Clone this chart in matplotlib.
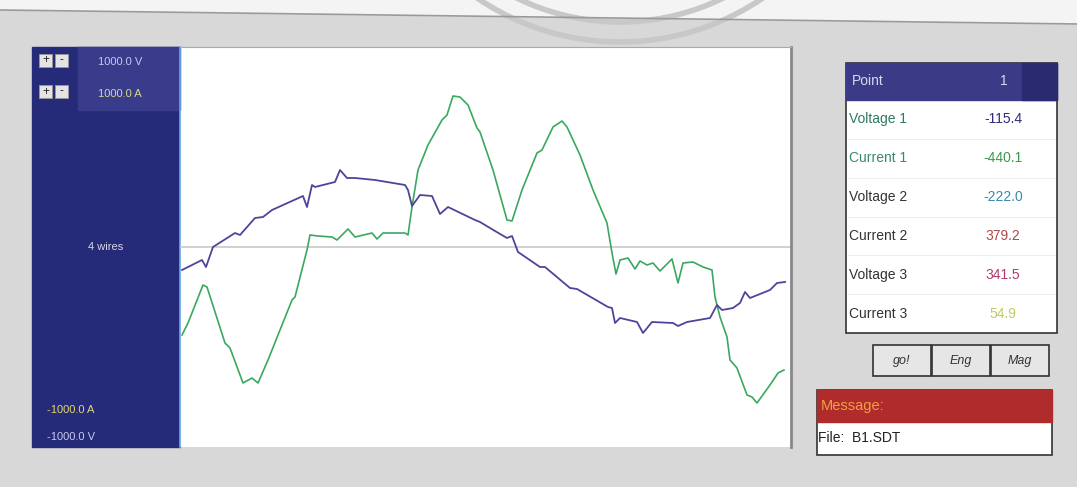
import matplotlib
matplotlib.use("Agg")
import matplotlib.pyplot as plt
from matplotlib.patches import Rectangle, Polygon, Arc

plt.rcParams['font.family'] = ['Liberation Sans', 'DejaVu Sans']

# ---------------- data (sample index, value) ----------------
v1_t = [2, 22, 26, 33, 55, 60, 75, 83, 92, 123, 127, 132, 135, 155, 160, 167, 175, 195,
        225, 228, 232, 240, 252, 260, 268, 295, 300, 315, 327, 332, 338, 360, 365, 390,
        397, 428, 432, 435, 440, 457, 463, 472, 493, 498, 507, 530, 537, 542, 553, 560,
        565, 570, 590, 597, 605]
v1_val = [-115, -65, -100, 0, 70, 60, 145, 150, 185, 255, 200, 310, 300, 325, 385, 345, 345, 335,
          310, 285, 205, 260, 255, 165, 200, 135, 125, 80, 45, 55, -25, -100, -100, -205,
          -210, -300, -305, -380, -355, -375, -430, -375, -380, -395, -375, -355, -290, -315,
          -305, -280, -225, -255, -215, -180, -175]

i1_t = [2, 8, 23, 27, 45, 50, 63, 72, 78, 88, 112, 115, 127, 130, 138, 152, 157, 168, 175,
        192, 197, 203, 225, 228, 232, 238, 248, 262, 267, 273, 280, 288, 297, 300, 313, 327,
        332, 342, 357, 362, 373, 382, 387, 400, 413, 427, 432, 436, 440, 448, 455, 460, 467,
        473, 480, 492, 498, 503, 513, 523, 532, 535, 540, 547, 550, 557, 567, 572, 577, 590,
        598, 604]
i1_val = [-440, -380, -190, -200, -480, -505, -680, -655, -680, -565, -265, -250, -15, 60, 55,
          50, 35, 90, 50, 70, 40, 70, 70, 60, 200, 385, 510, 635, 660, 755, 750, 710, 595, 575,
          385, 135, 130, 285, 470, 485, 600, 630, 600, 460, 285, 120, -30, -135, -65, -55, -110,
          -70, -90, -80, -120, -60, -180, -80, -75, -100, -115, -250, -350, -450, -565, -605,
          -740, -750, -780, -690, -630, -615]

table_labels = ["Voltage 1", "Current 1", "Voltage 2", "Current 2", "Voltage 3", "Current 3"]
table_values = ["-115.4", "-440.1", "-222.0", "379.2", "341.5", "54.9"]
label_colors = ["#2f7a5e", "#3a8a6a", "#333333", "#333333", "#333333", "#333333"]
value_colors = ["#2c2c78", "#3a9a50", "#3a8aa8", "#b04848", "#b03a70", "#c8c860"]
button_labels = ["go!", "Eng", "Mag"]

W, H = 1077, 487
fig = plt.figure(figsize=(W / 100, H / 100), dpi=100)

# background axes in pixel coordinates
bg = fig.add_axes([0, 0, 1, 1])
bg.set_xlim(0, W)
bg.set_ylim(H, 0)
bg.axis('off')
bg.add_patch(Rectangle((0, 0), W, H, color='#d8d8d8', zorder=0))
bg.add_patch(Polygon([(0, 0), (W, 0), (W, 24), (0, 10)], closed=True, color='#f4f4f4', zorder=1))
bg.plot([0, W], [10, 24], color='#9a9a9a', lw=1.2, zorder=2)
for r in (254, 234):
    bg.add_patch(Arc((620, -212), 2 * r, 2 * r, theta1=0, theta2=180, color='#c8c8c8', lw=4, zorder=1.5))

# left navy panel
bg.add_patch(Rectangle((32, 47), 148, 400, color='#252b78', zorder=3))
bg.add_patch(Rectangle((78, 47), 102, 63, color='#383c8a', zorder=3.1))
bg.plot([179.5, 179.5], [47, 447], color='#6aa8e8', lw=1.2, zorder=3.2)
for yb in (54, 85):
    for xb, s in ((39, '+'), (55, '-')):
        bg.add_patch(Rectangle((xb, yb), 13, 13, facecolor='#e4e4e4', edgecolor='#999999', lw=0.6, zorder=4))
        bg.text(xb + 6.5, yb + 6.5, s, ha='center', va='center', fontsize=8.5, color='#222222', zorder=5)
bg.text(98, 62, "1000.0 V", fontsize=8, color='#c8c8f0', va='center', zorder=5)
bg.text(98, 94, "1000.0 A", fontsize=8, color='#d8d890', va='center', zorder=5)
bg.text(106, 247, "4 wires", fontsize=8, color='#d8d8e8', ha='center', va='center', zorder=5)
bg.text(47, 410, "-1000.0 A", fontsize=8, color='#e0d870', va='center', zorder=5)
bg.text(47, 437, "-1000.0 V", fontsize=8, color='#c8c8f0', va='center', zorder=5)

# plot frame border on right
bg.add_patch(Rectangle((180, 47), 611, 400, facecolor='white', edgecolor='none', zorder=3))
bg.plot([791, 791], [47, 447], color='#888888', lw=2, zorder=4)
bg.plot([180, 791], [47, 47], color='#aaaaaa', lw=0.8, zorder=4)

# table
tx0, tx1 = 846, 1057
bg.add_patch(Rectangle((tx0, 63), tx1 - tx0, 270, facecolor='white', edgecolor='#333333', lw=1.2, zorder=3))
bg.add_patch(Rectangle((tx0, 63), tx1 - tx0, 37, color='#3a3a86', zorder=4))
bg.add_patch(Rectangle((1022, 63), tx1 - 1022, 37, color='#2a2a70', zorder=4.1))
bg.text(852, 81, "Point", fontsize=10, color='#d8d8f0', va='center', zorder=5)
bg.text(1004, 81, "1", fontsize=10, color='#d8d8f0', ha='center', va='center', zorder=5)
row_h = (333 - 100) / 6
for i, (lab, val, lc, vc) in enumerate(zip(table_labels, table_values, label_colors, value_colors)):
    yc = 100 + row_h * (i + 0.5)
    if i > 0:
        bg.plot([tx0 + 2, tx1 - 2], [100 + row_h * i] * 2, color='#eeeeee', lw=0.8, zorder=4)
    bg.text(849, yc, lab, fontsize=10, color=lc, va='center', zorder=5)
    bg.text(1003, yc, val, fontsize=10, color=vc, ha='center', va='center', zorder=5)

# buttons
for i, b in enumerate(button_labels):
    x0 = 873 + i * 59
    bg.add_patch(Rectangle((x0, 345), 58, 31, facecolor='#e6e6e6', edgecolor='#333333', lw=1.2, zorder=4))
    bg.text(x0 + 29, 361, b, fontsize=9, style='italic', color='#333333', ha='center', va='center', zorder=5)

# message box
bg.add_patch(Rectangle((817, 390), 235, 65, facecolor='white', edgecolor='#333333', lw=1.2, zorder=4))
bg.add_patch(Rectangle((817, 390), 235, 32, color='#b02c2c', zorder=4.1))
bg.text(821, 406, "Message:", fontsize=10.5, color='#f0a040', va='center', zorder=5)
bg.text(818, 438, "File:  B1.SDT", fontsize=10, color='#222222', va='center', zorder=5)

# waveform axes
ax = fig.add_axes([180 / W, (H - 447) / H, 610 / W, 400 / H])
ax.set_xlim(0, 610)
ax.set_ylim(-1000, 1000)
ax.patch.set_alpha(0)
ax.axis('off')
ax.axhline(0, color='#c8c8c8', lw=1.2, zorder=1)
ax.plot(i1_t, i1_val, color='#3aa860', lw=1.2, zorder=2)
ax.plot(v1_t, v1_val, color='#4e4499', lw=1.3, zorder=3)

fig.savefig("out.png", dpi=100)
